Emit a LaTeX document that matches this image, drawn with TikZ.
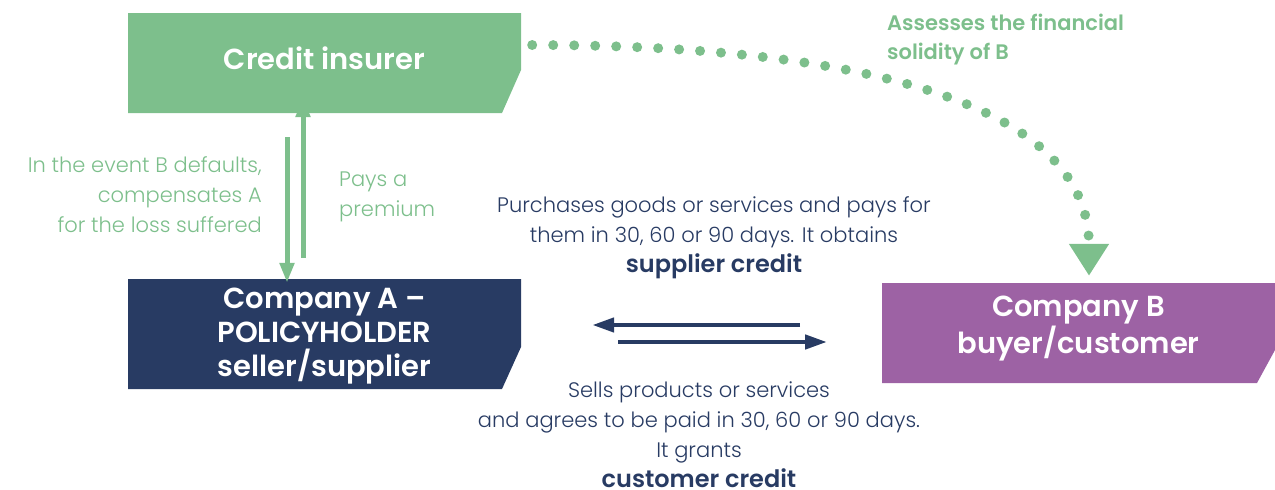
\documentclass[tikz,border=0pt]{standalone}
\usepackage{fontspec}
\setmainfont{Poppins}[UprightFont=* Light, BoldFont=* SemiBold]
\usetikzlibrary{arrows.meta,calc}
\definecolor{insgreen}{HTML}{7DBF8C}
\definecolor{polnavy}{HTML}{283B63}
\definecolor{buypurple}{HTML}{9D62A4}
\def\cutbox[#1](#2,#3)(#4,#5)(#6:#7){\fill[#1] (#2,#3) -- (#4,#3) -- (#4,{#5-#6}) -- ({#4-#7},#5) -- (#2,#5) -- cycle;}
\def\bignote#1{{\fontsize{24}{30}\selectfont\bfseries #1}}

\begin{document}
\begin{tikzpicture}[x=1pt, y=-1pt,
		boxtext/.style={text=white, font=\fontsize{29}{34}\selectfont\bfseries, align=center, minimum width=393pt, minimum height=100pt, inner sep=0pt},
		note/.style={font=\fontsize{21}{30}\selectfont, inner sep=0pt},
		garrow/.style={line width=5pt, color=insgreen, -{Triangle[width=14pt,length=20pt]}},
		narrow/.style={line width=4.5pt, color=polnavy, -{Triangle[width=14pt,length=22pt]}},
		dotline/.style={line width=10pt, color=insgreen, line cap=round, dash pattern=on 0pt off 21pt, -{Triangle[width=38pt,length=32pt]}}]
			%%%%% START %%%%%
			\useasboundingbox (0,0) rectangle (1275,490);
			
			\cutbox[insgreen](128,13)(521,113)(43:19)
			\cutbox[polnavy](128,279)(521,389)(42:19)
			\cutbox[buypurple](882,283)(1275,383)(33:18)
			
			\node[boxtext] (ins) at (324.5,58) {Credit insurer};
			\node[boxtext, minimum height=110pt] (ca) at (324.5,336) {Company A --\\POLICYHOLDER\\seller/supplier};
			\node[boxtext, font=\fontsize{29}{37}\selectfont\bfseries, minimum height=106pt] (cb) at (1078.5,329) {Company B\\buyer/customer};
			
			\draw[garrow, shorten <=29pt, shorten >=-2pt] ([xshift=-37.5pt]ins.south) -- ([xshift=-37.5pt]ca.north);
			\draw[garrow, shorten <=23pt, shorten >=-11pt] ([xshift=-21.5pt]ca.north) -- ([xshift=-21.5pt]ins.south);
			
			\draw[narrow] ([yshift=11pt]ca.east -| 800,0) -- ([yshift=11pt,xshift=71pt]ca.east);
			\draw[narrow] ([yshift=-6pt,xshift=97pt]ca.east) -- ([yshift=-6pt]ca.east -| 827,0);
			
			\draw[dotline] ([shift={(11pt,13pt)}]ins.east) .. controls (850,45) and (1089,100) .. ([xshift=10.5pt]cb.north);
			
			\node[note, text=insgreen, align=right, anchor=east] (comp) at (262,195) {In the event B defaults,\\compensates A\\for the loss suffered};
			\node[note, text=insgreen, align=left, anchor=west] (prem) at (339,197) {Pays a\\premium};
			\node[note, text=insgreen, align=left, anchor=west, font=\fontsize{21}{29}\selectfont\bfseries] (asse) at (887,40) {Assesses the financial\\solidity of B};
			\node[note, text=polnavy, align=center] (buy) at (714,238) {Purchases goods or services and pays for\\them in 30, 60 or 90 days. It obtains\\\bignote{supplier credit}};
			\node[note, text=polnavy, align=center] (sell) at (699,435) {Sells products or services\\and agrees to be paid in 30, 60 or 90 days.\\It grants\\\bignote{customer credit}};
			
			%%%%% END %%%%%
\end{tikzpicture}
\end{document}
